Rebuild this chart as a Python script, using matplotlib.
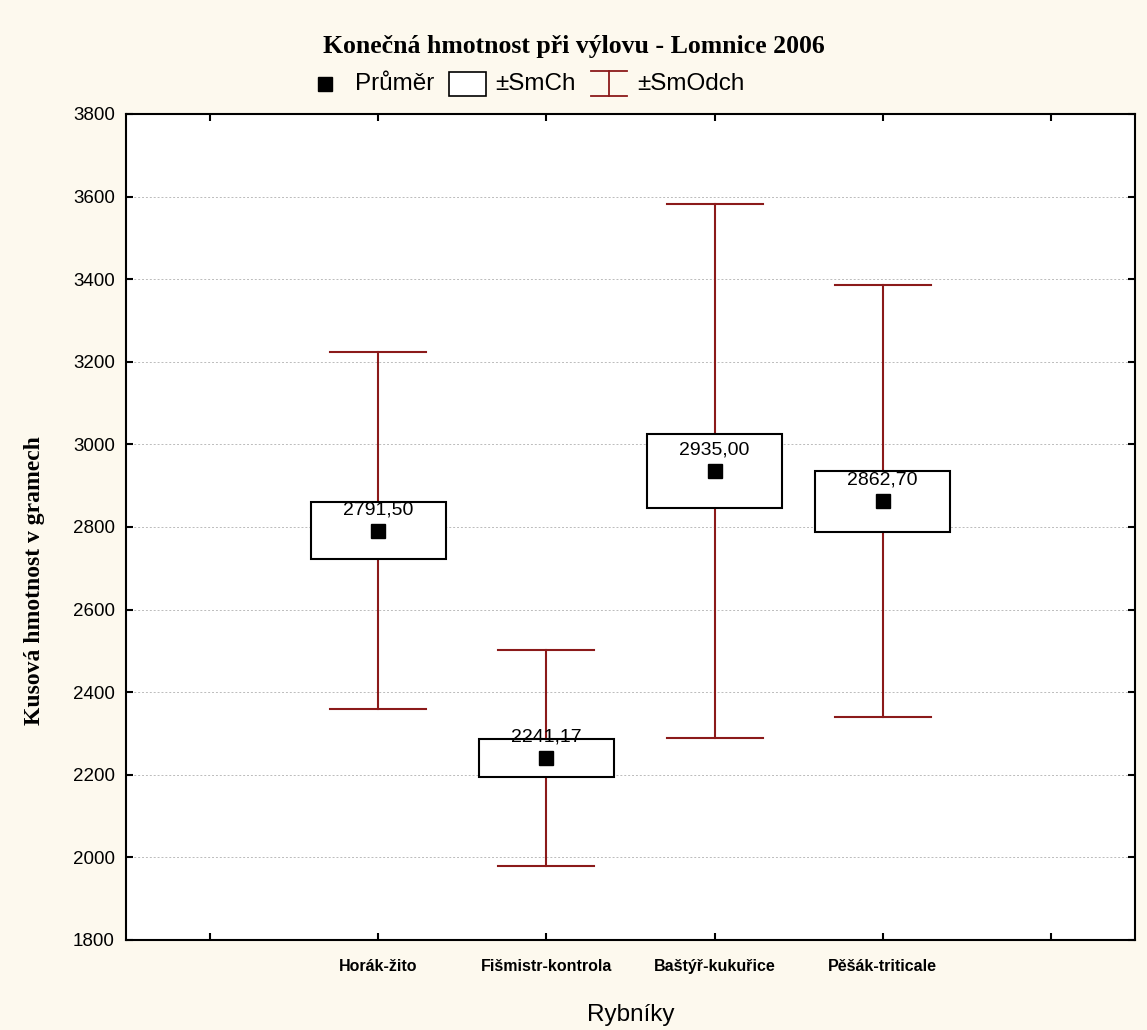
import matplotlib
matplotlib.use("Agg")
import matplotlib.pyplot as plt
from matplotlib.patches import Rectangle
from matplotlib.lines import Line2D

# Pond data: mean, standard error, standard deviation (final piece weight, g)
ponds = ["Horák-žito", "Fišmistr-kontrola", "Baštýř-kukuřice", "Pěšák-triticale"]
means = [2791.50, 2241.17, 2935.00, 2862.70]
std_err = [70, 46, 90, 74]
std_dev = [433, 262, 647, 523]

y_ticks = [1800, 2000, 2200, 2400, 2600, 2800, 3000, 3200, 3400, 3600, 3800]

BG = "#FDF9EE"
RED = "#8B1A1A"
W, H = 1147, 1030

fig = plt.figure(figsize=(W / 100, H / 100), dpi=100, facecolor=BG)
ax = fig.add_axes([126 / W, (H - 940) / H, 1009 / W, 826 / H])
ax.set_facecolor("white")

xs = list(range(1, len(ponds) + 1))
box_w = 0.8
cap_w = 0.57

for x, m, se, sd in zip(xs, means, std_err, std_dev):
    # whisker (±SD)
    ax.plot([x, x], [m - sd, m + sd], color=RED, lw=1.5, zorder=2)
    for yv in (m - sd, m + sd):
        ax.plot([x - cap_w / 2, x + cap_w / 2], [yv, yv], color=RED, lw=1.5, zorder=2)
    # box (±SE)
    ax.add_patch(Rectangle((x - box_w / 2, m - se), box_w, 2 * se,
                           facecolor="white", edgecolor="black", lw=1.5, zorder=3))
    # mean
    ax.plot([x], [m], marker="s", ms=10, color="black", ls="none", zorder=4)
    ax.annotate(f"{m:.2f}".replace(".", ","), (x, m), xytext=(0, 21),
                textcoords="offset pixels", ha="center", va="center",
                fontsize=14, family="Liberation Sans", zorder=5)

ax.set_xlim(-0.5, 5.5)
ax.set_ylim(1800, 3800)
ax.set_xticks(range(0, 6))
ax.set_xticklabels([""] + ponds + [""], fontsize=11.5, fontweight="bold",
                   family="Liberation Sans")
ax.set_yticks(y_ticks)
ax.set_yticklabels([str(v) for v in y_ticks], fontsize=13.5, family="Liberation Sans")
ax.tick_params(direction="in", length=5, width=1.5, top=True, right=True,
               labeltop=False, labelright=False)
ax.tick_params(axis="x", pad=14)
ax.tick_params(axis="y", pad=8)
ax.yaxis.grid(True, linestyle=(0, (2, 2)), color="#BBBBBB", lw=0.7)
ax.set_axisbelow(True)
for s in ax.spines.values():
    s.set_linewidth(1.5)

ax.set_xlabel("Rybníky", fontsize=17.5, family="Liberation Sans", labelpad=21)
ax.set_ylabel("Kusová hmotnost v gramech", fontsize=17, fontweight="bold",
              family="Liberation Serif")
ax.yaxis.set_label_coords(-0.080, 0.435)

fig.text(0.5, 1 - 46 / H, "Konečná hmotnost při výlovu - Lomnice 2006",
         ha="center", va="center", fontsize=18.5, fontweight="bold",
         family="Liberation Serif")

# Legend row
def fx(px):
    return px / W

def fy(py):
    return 1 - py / H

ly = 84
fig.add_artist(Line2D([fx(325)], [fy(ly)], marker="s", ms=9.5, color="black",
                      ls="none", transform=fig.transFigure))
fig.text(fx(355), fy(ly), "Průměr", ha="left", va="center", fontsize=17.5,
         family="Liberation Sans")
fig.add_artist(Rectangle((fx(449), fy(96)), fx(486) - fx(449), fy(72) - fy(96),
                         facecolor="white", edgecolor="black", lw=1.2,
                         transform=fig.transFigure))
fig.text(fx(495), fy(ly), "±SmCh", ha="left", va="center", fontsize=17.5,
         family="Liberation Sans")
for seg in ([(591, 71), (627, 71)], [(591, 96), (627, 96)], [(609, 71), (609, 96)]):
    (x0, y0), (x1, y1) = seg
    fig.add_artist(Line2D([fx(x0), fx(x1)], [fy(y0), fy(y1)], color=RED, lw=1.3,
                          transform=fig.transFigure))
fig.text(fx(637), fy(ly), "±SmOdch", ha="left", va="center", fontsize=17.5,
         family="Liberation Sans")

fig.savefig("out.png", dpi=100, facecolor=BG)
